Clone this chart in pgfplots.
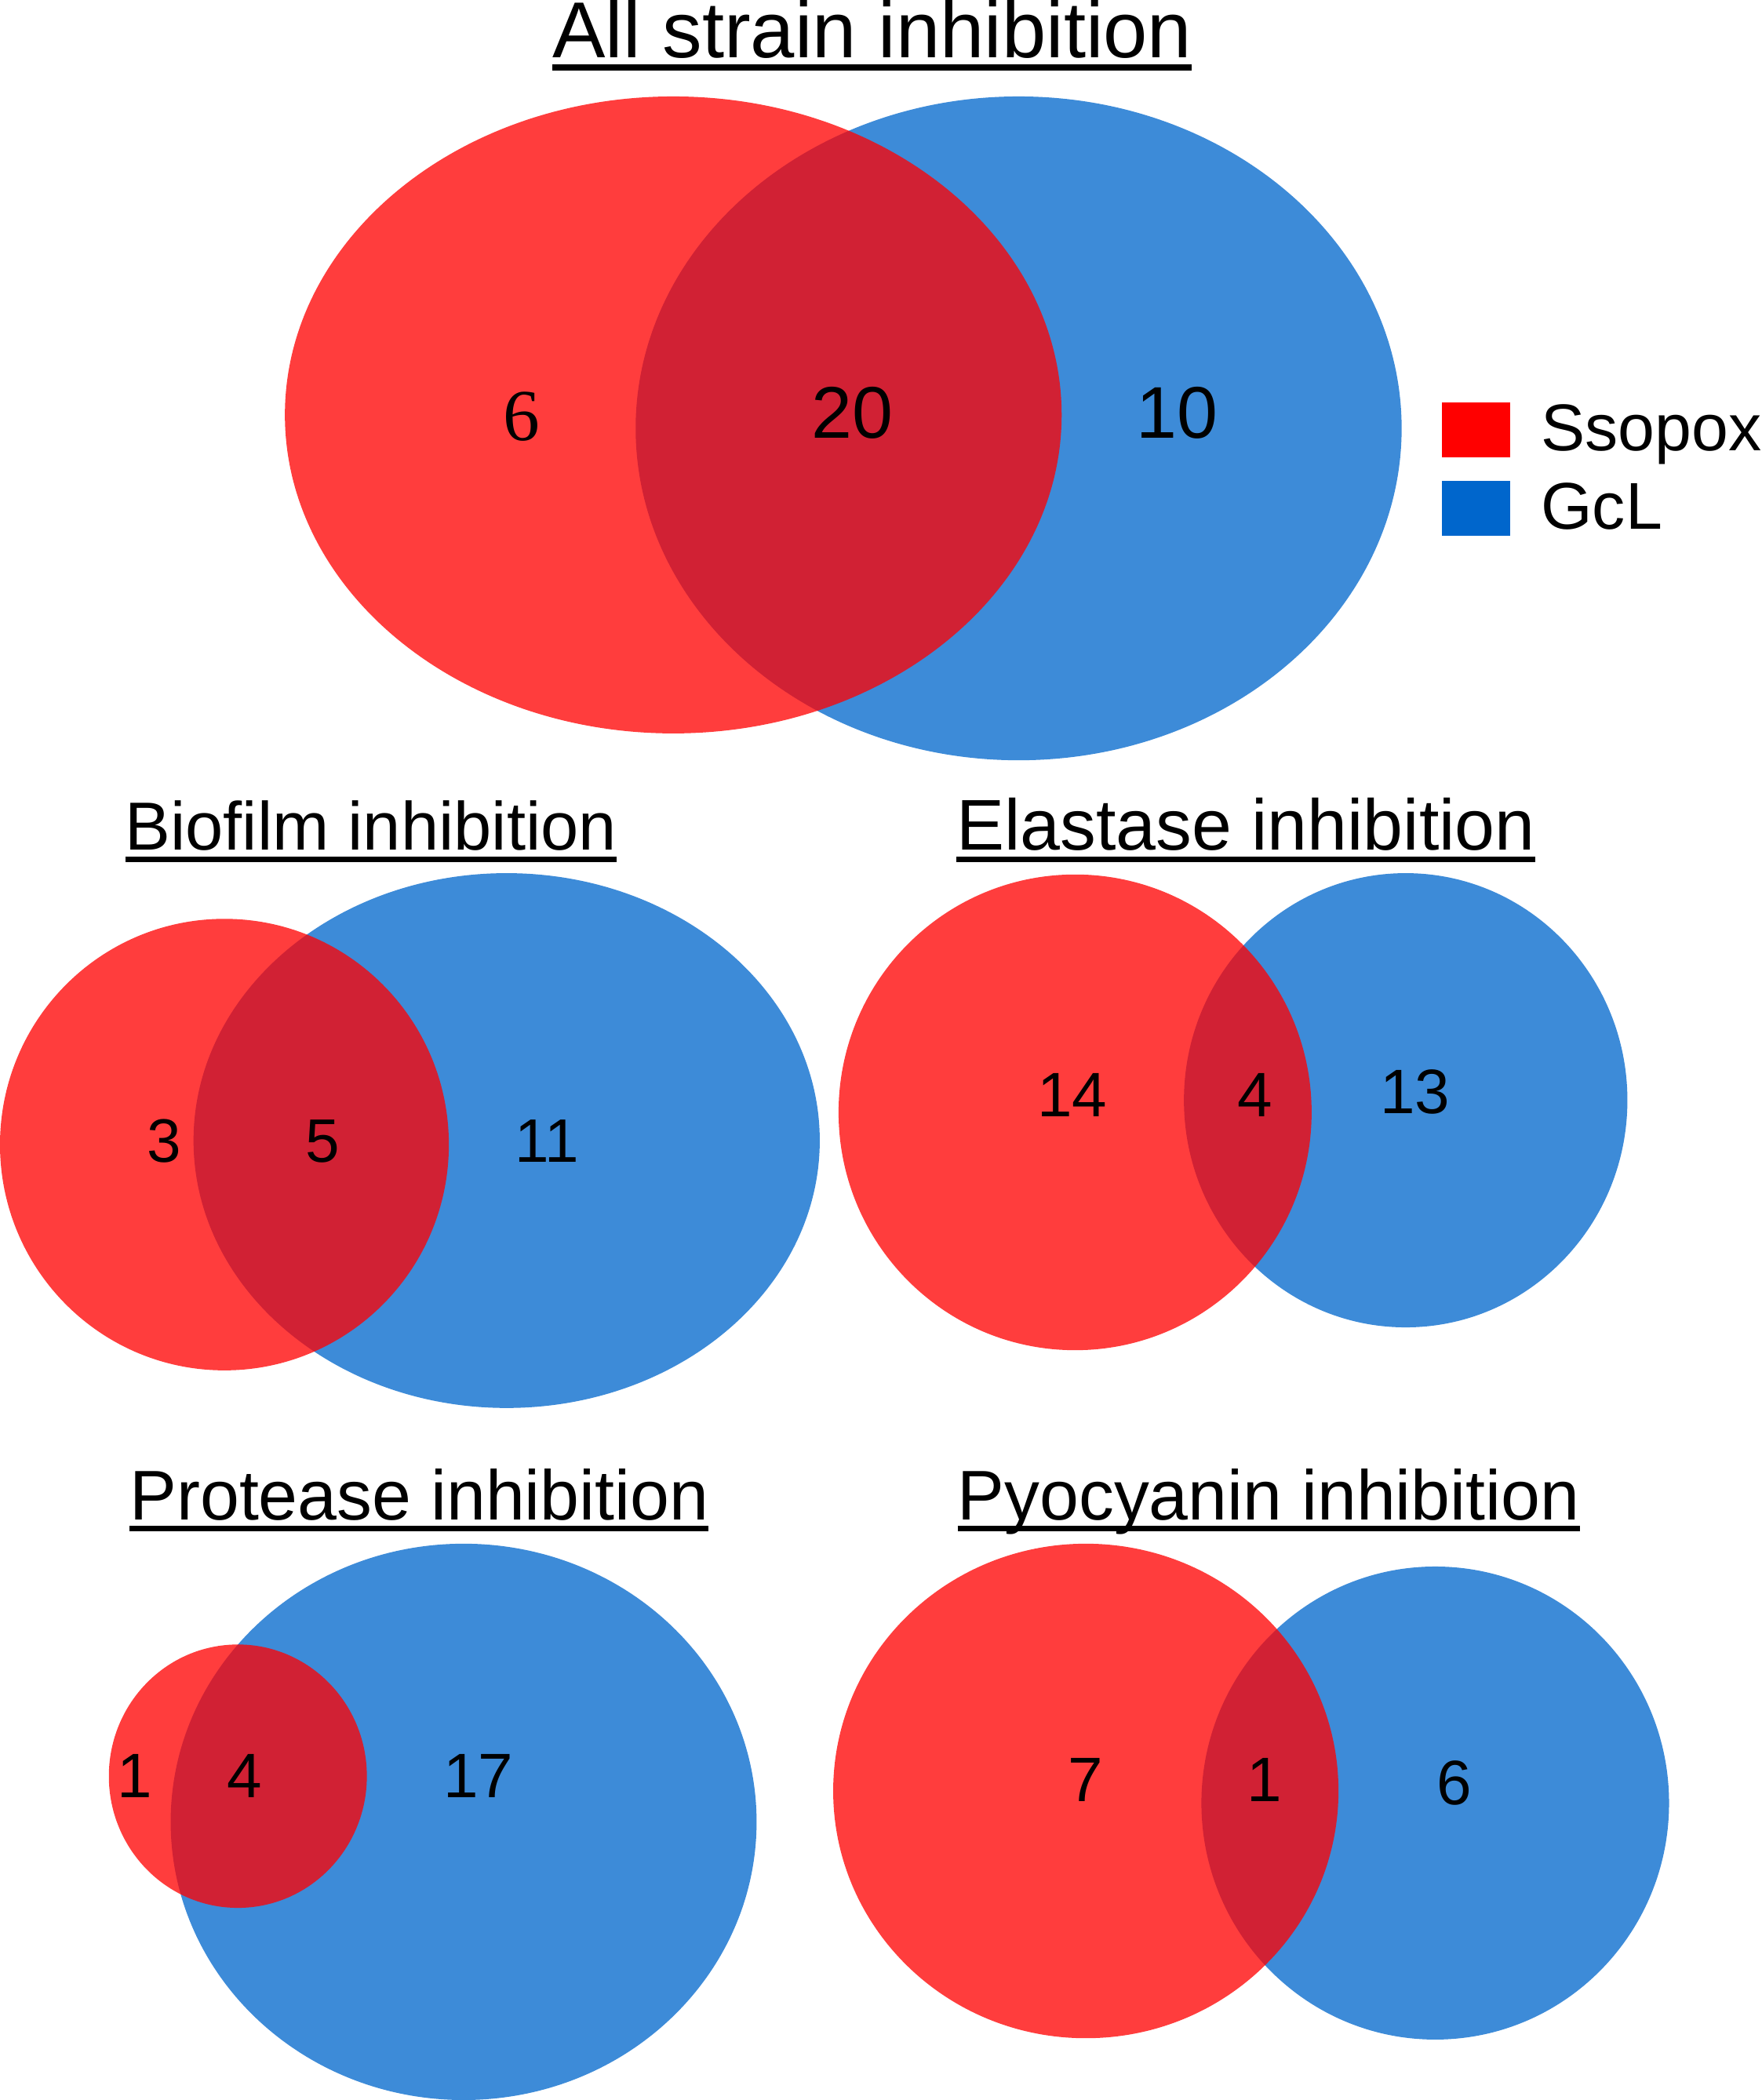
\documentclass[border=0pt]{standalone}
\usepackage{pgfplots}
\pgfplotsset{compat=1.18}
\usepackage{fontspec}
\setmainfont{Liberation Sans}
\newfontfamily\seriffont{Liberation Serif}
\definecolor{vred}{RGB}{255,0,0}
\definecolor{vblue}{RGB}{0,102,204}
\newcommand\ultitle[1]{\setbox0\hbox{#1}\rlap{\vrule height -0.09em depth 0.17em width \wd0}\box0}
\begin{document}
\begin{tikzpicture}
\begin{axis}[
  scale only axis, width=13.13cm, height=15.68cm,
  xmin=0, xmax=1313, ymin=0, ymax=1568, y dir=reverse,
  axis lines=none, clip=false,
  legend style={at={(axis cs:1076,304)}, anchor=north west, draw=none, fill=none,
    inner sep=0pt, row sep=4.5pt, font=\fontsize{14}{16}\selectfont,
    nodes={inner sep=0pt, text height=0.72em, text depth=0.2em},
    /tikz/every odd column/.append style={column sep=0.23cm}},
  legend cell align=left,
  legend image code/.code={\fill[#1] (0cm,-0.145cm) rectangle (0.51cm,0.265cm);},
]
\addlegendimage{fill=vred, draw=none}
\addlegendentry{Ssopox}
\addlegendimage{fill=vblue, draw=none}
\addlegendentry{GcL}

% blue sets (GcL)
\fill[vblue, fill opacity=0.76] (axis cs:762,324) ellipse [x radius=285, y radius=247];
\fill[vblue, fill opacity=0.76] (axis cs:381,854) ellipse [x radius=233, y radius=199];
\fill[vblue, fill opacity=0.76] (axis cs:1050,824) ellipse [x radius=165, y radius=169];
\fill[vblue, fill opacity=0.76] (axis cs:349,1361) ellipse [x radius=218, y radius=207];
\fill[vblue, fill opacity=0.76] (axis cs:1072,1347) ellipse [x radius=174, y radius=176];
% red sets (Ssopox)
\fill[vred, fill opacity=0.76] (axis cs:505,314) ellipse [x radius=289, y radius=237];
\fill[vred, fill opacity=0.76] (axis cs:171,857) ellipse [x radius=167, y radius=168];
\fill[vred, fill opacity=0.76] (axis cs:804,833) ellipse [x radius=176, y radius=177];
\fill[vred, fill opacity=0.76] (axis cs:181,1327) ellipse [x radius=96, y radius=98];
\fill[vred, fill opacity=0.76] (axis cs:812,1338) ellipse [x radius=188, y radius=184];

% titles
\node[anchor=base, inner sep=0pt, font=\fontsize{16.8}{20}\selectfont] at (axis cs:653,48) {\ultitle{All strain inhibition}};
\node[anchor=base, inner sep=0pt, font=\fontsize{14.4}{18}\selectfont] at (axis cs:280,638) {\ultitle{Biofilm inhibition}};
\node[anchor=base, inner sep=0pt, font=\fontsize{15.2}{18}\selectfont] at (axis cs:931,638) {\ultitle{Elastase inhibition}};
\node[anchor=base, inner sep=0pt, font=\fontsize{14.9}{18}\selectfont] at (axis cs:316,1136) {\ultitle{Protease inhibition}};
\node[anchor=base, inner sep=0pt, font=\fontsize{14.9}{18}\selectfont] at (axis cs:948,1136) {\ultitle{Pyocyanin inhibition}};

% counts
\node[anchor=base, inner sep=0pt, font=\seriffont\fontsize{15.5}{18}\selectfont] at (axis cs:392,333) {6};
\node[anchor=base, inner sep=0pt, font=\fontsize{15.5}{18}\selectfont] at (axis cs:638,331) {20};
\node[anchor=base, inner sep=0pt, font=\fontsize{15.5}{18}\selectfont] at (axis cs:880,331) {10};

\node[anchor=base, inner sep=0pt, font=\fontsize{13}{16}\selectfont] at (axis cs:126,870) {3};
\node[anchor=base, inner sep=0pt, font=\fontsize{13}{16}\selectfont] at (axis cs:244,870) {5};
\node[anchor=base, inner sep=0pt, font=\fontsize{13}{16}\selectfont] at (axis cs:411,870) {11};

\node[anchor=base, inner sep=0pt, font=\fontsize{13.3}{16}\selectfont] at (axis cs:802,836) {14};
\node[anchor=base, inner sep=0pt, font=\fontsize{13.3}{16}\selectfont] at (axis cs:938,836) {4};
\node[anchor=base, inner sep=0pt, font=\fontsize{13.3}{16}\selectfont] at (axis cs:1057,834) {13};

\node[anchor=base, inner sep=0pt, font=\fontsize{13.3}{16}\selectfont] at (axis cs:104,1343) {1};
\node[anchor=base, inner sep=0pt, font=\fontsize{13.3}{16}\selectfont] at (axis cs:186,1343) {4};
\node[anchor=base, inner sep=0pt, font=\fontsize{13.3}{16}\selectfont] at (axis cs:360,1343) {17};

\node[anchor=base, inner sep=0pt, font=\fontsize{13.3}{16}\selectfont] at (axis cs:812,1346) {7};
\node[anchor=base, inner sep=0pt, font=\fontsize{13.3}{16}\selectfont] at (axis cs:945,1346) {1};
\node[anchor=base, inner sep=0pt, font=\fontsize{13.3}{16}\selectfont] at (axis cs:1086,1348) {6};
\end{axis}
\end{tikzpicture}
\end{document}
